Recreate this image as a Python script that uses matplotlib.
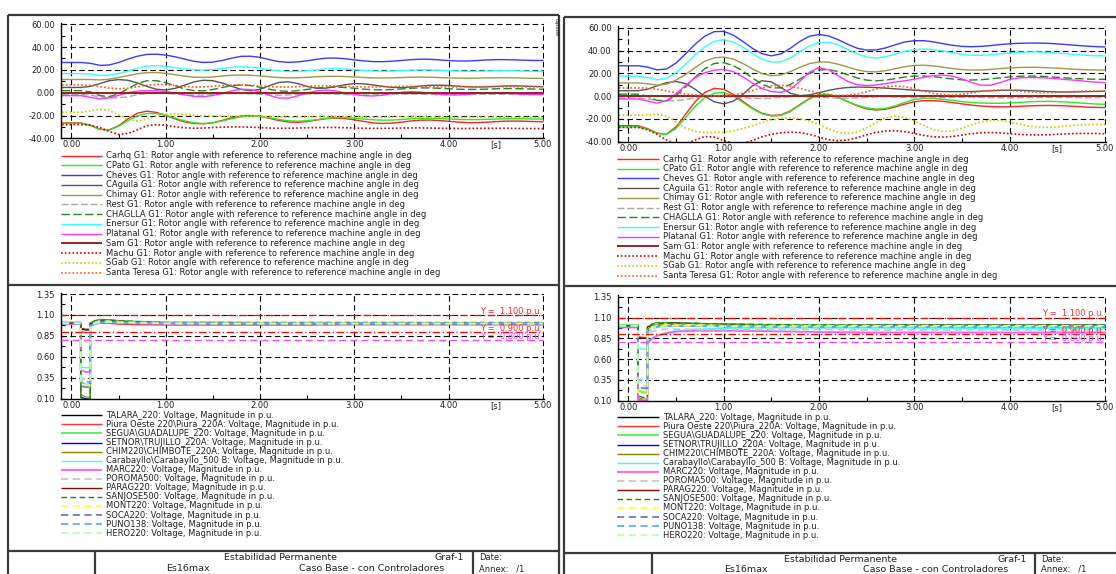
import numpy as np
import matplotlib
matplotlib.use("Agg")
import matplotlib.pyplot as plt

# ---------------------------------------------------------------- data
# rotor angles [deg], sampled every 0.1 s starting at t = -0.1 s
T_START, T_STEP = -0.1, 0.1

carhq_a = [-26.5, -26.5, -26.5, -28.5, -32.0, -32.6, -29.0, -23.0, -18.0, -16.2, -17.3, -20.0, -23.0, -25.6, -27.0, -27.3, -26.3, -24.3, -22.0, -20.4, -20.0, -20.8, -22.5, -24.4, -25.7, -26.0, -25.3, -24.0, -22.8, -22.3, -22.7, -23.8, -25.2, -26.5, -27.0, -26.7, -25.8, -24.8, -24.1, -24.0, -24.4, -25.1, -25.8, -26.2, -26.2, -25.9, -25.4, -25.0, -24.9, -25.0, -25.3, -25.5]
cpato_a = [-26.8, -26.8, -26.8, -28.8, -32.3, -32.8, -29.5, -24.5, -20.3, -18.3, -18.2, -19.8, -22.3, -24.7, -26.4, -27.0, -26.4, -24.8, -22.8, -21.2, -20.5, -20.8, -22.0, -23.5, -24.6, -25.0, -24.6, -23.6, -22.5, -21.8, -21.8, -22.3, -23.1, -23.8, -24.1, -24.0, -23.5, -22.9, -22.5, -22.4, -22.6, -23.0, -23.4, -23.6, -23.6, -23.4, -23.1, -22.9, -22.8, -22.9, -23.0, -23.1]
cheves_a = [26.5, 26.5, 26.5, 25.8, 24.0, 24.3, 26.5, 29.5, 32.0, 33.6, 33.8, 33.0, 31.5, 29.5, 27.5, 26.5, 26.8, 28.3, 30.3, 31.9, 32.0, 31.0, 29.0, 27.3, 26.6, 27.0, 28.0, 29.3, 30.3, 30.4, 29.8, 28.8, 27.9, 27.3, 27.2, 27.6, 28.3, 29.0, 29.4, 29.3, 28.8, 28.2, 27.8, 27.8, 28.2, 28.7, 29.0, 29.0, 28.8, 28.5, 28.3, 28.3]
caguila_a = [4.6, 4.6, 4.6, 5.5, 8.0, 10.5, 11.5, 10.9, 8.6, 5.5, 3.0, 2.4, 3.8, 6.6, 9.5, 10.9, 10.5, 8.5, 5.6, 2.9, 1.7, 3.0, 6.2, 9.0, 9.6, 8.0, 5.5, 3.9, 4.0, 5.3, 7.0, 8.0, 7.8, 6.8, 5.6, 4.7, 4.5, 5.0, 5.8, 6.5, 6.6, 6.3, 5.7, 5.2, 5.0, 5.1, 5.5, 5.9, 6.0, 5.8, 5.5, 5.3]
chimay_a = [11.6, 11.6, 11.6, 11.5, 11.2, 11.8, 13.3, 15.0, 16.6, 17.6, 17.7, 17.0, 15.8, 14.5, 13.6, 13.4, 13.8, 14.6, 15.3, 15.5, 15.3, 14.7, 14.0, 13.3, 13.0, 13.1, 13.5, 14.0, 14.3, 14.4, 14.2, 13.8, 13.3, 13.0, 12.9, 13.0, 13.3, 13.6, 13.7, 13.6, 13.3, 13.0, 12.8, 12.7, 12.8, 13.0, 13.1, 13.1, 13.0, 12.8, 12.6, 12.5]
rest_a = [-1.6, -1.6, -1.6, -2.2, -3.5, -4.5, -4.6, -3.5, -1.8, -0.5, -0.2, -0.5, -1.2, -1.8, -2.2, -2.1, -1.6, -1.0, -0.7, -0.7, -1.0, -1.5, -2.0, -2.2, -2.0, -1.6, -1.2, -1.0, -1.0, -1.2, -1.6, -1.9, -2.0, -1.9, -1.6, -1.3, -1.2, -1.2, -1.4, -1.6, -1.8, -1.8, -1.7, -1.5, -1.4, -1.3, -1.4, -1.5, -1.6, -1.7, -1.7, -1.6]
chaglla_a = [1.8, 1.8, 1.8, 0.8, -2.5, -3.4, -1.0, 3.5, 8.0, 10.5, 10.6, 8.8, 6.0, 3.3, 1.8, 1.6, 2.8, 4.6, 6.2, 6.7, 6.2, 4.8, 3.0, 1.6, 1.2, 1.8, 2.9, 4.0, 4.7, 4.9, 4.6, 3.9, 3.1, 2.6, 2.5, 2.8, 3.3, 3.9, 4.2, 4.2, 3.9, 3.5, 3.1, 2.9, 2.9, 3.1, 3.4, 3.6, 3.6, 3.4, 3.2, 3.1]
enersur_a = [16.8, 16.8, 16.8, 16.3, 15.2, 15.3, 16.8, 19.0, 21.5, 23.3, 23.8, 23.2, 22.0, 20.8, 20.0, 19.8, 20.3, 21.3, 22.3, 22.7, 22.4, 21.5, 20.3, 19.2, 18.6, 18.7, 19.2, 20.0, 20.8, 21.1, 20.8, 20.2, 19.5, 19.0, 18.8, 19.0, 19.4, 19.8, 20.0, 20.0, 19.7, 19.3, 19.0, 18.8, 18.8, 19.0, 19.2, 19.3, 19.2, 19.0, 18.8, 18.7]
platanal_a = [-2.6, -2.6, -2.6, -4.0, -5.5, -4.6, -2.3, 0.0, 1.5, 1.8, 1.7, 1.2, -0.2, -1.9, -3.2, -3.5, -2.5, -0.6, 1.6, 3.0, 2.8, 0.8, -2.4, -4.7, -4.8, -2.8, -0.2, 1.7, 2.3, 1.6, 0.0, -1.5, -2.6, -2.9, -2.2, -0.8, 0.4, 0.9, 0.6, -0.3, -1.3, -1.9, -2.0, -1.5, -0.7, -0.1, 0.0, -0.3, -0.9, -1.4, -1.6, -1.5]
sam_a = [0.0] * 52  # reference machine
machu_a = [-28.0, -28.0, -28.0, -28.5, -30.5, -34.0, -36.6, -35.8, -32.5, -29.0, -28.0, -28.6, -29.8, -30.8, -31.2, -31.0, -30.6, -30.2, -30.0, -30.0, -30.2, -30.6, -31.0, -31.2, -31.2, -31.0, -30.8, -30.6, -30.5, -30.5, -30.7, -31.0, -31.2, -31.3, -31.3, -31.2, -31.0, -30.9, -30.9, -31.0, -31.2, -31.3, -31.4, -31.4, -31.3, -31.2, -31.2, -31.2, -31.3, -31.4, -31.4, -31.5]
sgab_a = [-17.2, -17.2, -17.2, -16.0, -14.6, -15.5, -19.5, -23.5, -24.8, -23.2, -20.5, -18.8, -18.6, -19.0, -19.6, -20.0, -20.3, -20.5, -20.6, -20.6, -20.6, -20.8, -21.0, -21.2, -21.4, -21.4, -21.3, -21.1, -20.9, -20.8, -20.9, -21.1, -21.3, -21.5, -21.5, -21.4, -21.2, -21.1, -21.1, -21.2, -21.4, -21.5, -21.6, -21.6, -21.5, -21.4, -21.4, -21.5, -21.6, -21.7, -21.7, -21.7]
steresa_a = [6.8, 6.8, 6.8, 6.5, 5.3, 4.0, 3.4, 3.9, 5.2, 6.6, 7.3, 7.1, 6.3, 5.5, 5.0, 5.1, 5.6, 6.3, 6.8, 6.9, 6.5, 5.9, 5.3, 5.0, 5.0, 5.3, 5.7, 6.0, 6.1, 5.9, 5.6, 5.3, 5.1, 5.1, 5.2, 5.4, 5.6, 5.6, 5.5, 5.3, 5.2, 5.1, 5.1, 5.2, 5.3, 5.4, 5.4, 5.3, 5.2, 5.1, 5.1, 5.1]

carhq_b = [-26.0, -26.0, -26.0, -28.5, -32.5, -33.5, -27.0, -16.0, -5.0, 3.0, 6.8, 6.0, 1.5, -4.5, -10.5, -15.0, -17.0, -16.5, -13.0, -7.5, -2.0, 1.3, 1.5, -1.0, -4.8, -8.5, -11.2, -12.2, -11.5, -9.5, -7.0, -5.0, -4.0, -4.0, -4.6, -5.6, -6.8, -7.9, -8.7, -9.2, -9.4, -9.3, -9.0, -8.6, -8.3, -8.2, -8.3, -8.6, -9.1, -9.6, -9.9, -10.1]
cpato_b = [-27.0, -27.0, -27.0, -29.0, -32.8, -33.6, -28.5, -19.0, -9.0, -1.5, 2.5, 3.2, 0.0, -5.5, -11.0, -15.5, -17.5, -17.0, -13.5, -8.0, -2.5, 1.0, 1.2, -1.2, -4.8, -8.0, -10.4, -11.4, -10.8, -8.5, -5.5, -3.0, -2.0, -2.1, -2.8, -3.8, -4.8, -5.6, -6.1, -6.3, -6.3, -6.0, -5.5, -5.0, -4.7, -4.6, -4.8, -5.2, -5.8, -6.4, -6.9, -7.2]
cheves_b = [26.6, 26.6, 26.6, 25.5, 23.0, 23.8, 29.0, 37.0, 45.5, 52.5, 56.5, 56.8, 53.5, 48.0, 42.0, 37.2, 35.3, 37.0, 42.0, 48.0, 52.5, 54.0, 52.8, 49.5, 45.5, 42.0, 40.4, 40.5, 42.3, 45.0, 47.5, 48.6, 48.6, 47.6, 46.0, 44.6, 43.6, 43.3, 43.6, 44.3, 45.2, 45.9, 46.3, 46.5, 46.5, 46.3, 45.8, 45.2, 44.5, 43.9, 43.4, 43.1]
caguila_b = [4.7, 4.7, 4.7, 6.0, 9.0, 11.8, 12.8, 11.0, 6.0, 0.0, -5.0, -6.8, -4.5, 1.5, 9.0, 13.5, 12.5, 7.5, 2.5, 0.4, 1.0, 3.0, 5.0, 6.6, 7.5, 7.9, 7.8, 7.5, 7.0, 6.4, 5.8, 5.2, 4.7, 4.3, 4.0, 3.9, 3.9, 4.0, 4.3, 4.7, 5.0, 5.2, 5.1, 4.8, 4.4, 4.0, 3.7, 3.6, 3.7, 3.9, 4.1, 4.3]
chimay_b = [11.6, 11.6, 11.6, 10.8, 9.6, 10.5, 14.0, 19.0, 25.0, 30.5, 33.6, 34.2, 32.5, 28.6, 24.0, 19.8, 17.9, 18.6, 21.5, 25.3, 28.5, 30.0, 29.8, 28.0, 25.5, 23.0, 21.5, 21.3, 22.3, 24.0, 25.8, 26.9, 27.1, 26.5, 25.4, 24.2, 23.2, 22.8, 22.9, 23.4, 24.1, 24.7, 25.1, 25.3, 25.2, 24.9, 24.5, 24.0, 23.5, 23.1, 22.9, 22.8]
rest_b = [-1.8, -1.8, -1.8, -2.5, -3.6, -4.2, -4.0, -3.0, -1.5, -0.3, 0.2, 0.0, -0.6, -1.4, -2.0, -2.2, -1.8, -1.1, -0.5, -0.3, -0.5, -1.0, -1.5, -1.8, -1.8, -1.5, -1.1, -0.8, -0.7, -0.8, -1.1, -1.4, -1.6, -1.6, -1.4, -1.2, -1.0, -1.0, -1.1, -1.3, -1.4, -1.5, -1.4, -1.3, -1.2, -1.1, -1.1, -1.2, -1.3, -1.3, -1.3, -1.2]
chaglla_b = [1.7, 1.7, 1.7, 0.0, -3.8, -4.2, 0.5, 8.0, 16.5, 24.0, 28.6, 29.3, 26.8, 22.0, 16.0, 10.5, 7.2, 7.2, 10.2, 15.0, 20.0, 23.0, 23.3, 21.5, 18.8, 16.0, 14.0, 13.4, 14.0, 15.3, 16.7, 17.5, 17.6, 17.0, 16.0, 15.0, 14.3, 14.1, 14.4, 15.1, 16.0, 16.8, 17.4, 17.6, 17.5, 17.1, 16.5, 15.9, 15.4, 15.0, 14.8, 14.7]
enersur_b = [17.5, 17.5, 17.5, 16.5, 14.3, 15.5, 20.5, 28.0, 36.0, 43.0, 48.0, 49.5, 47.5, 43.0, 37.5, 32.5, 29.8, 30.0, 33.5, 39.0, 44.0, 47.0, 47.2, 45.0, 41.0, 37.0, 34.2, 33.4, 34.5, 36.8, 39.2, 40.8, 41.3, 40.8, 39.5, 38.0, 36.6, 35.8, 35.7, 36.2, 37.0, 37.8, 38.4, 38.7, 38.7, 38.4, 37.8, 37.1, 36.4, 35.8, 35.4, 35.2]
platanal_b = [-2.5, -2.5, -2.5, -4.3, -6.2, -4.0, 2.0, 9.5, 16.0, 20.5, 22.8, 23.4, 21.5, 17.0, 11.5, 6.8, 4.0, 3.3, 6.0, 13.0, 21.0, 25.0, 23.0, 18.0, 13.0, 10.0, 9.2, 9.8, 11.0, 12.3, 13.5, 14.8, 16.4, 17.8, 18.4, 17.5, 15.0, 12.0, 9.6, 9.5, 11.8, 14.6, 16.0, 16.3, 16.2, 15.8, 15.2, 14.5, 13.8, 13.0, 12.3, 11.8]
sam_b = [0.0] * 52  # reference machine
machu_b = [-27.5, -27.5, -27.5, -29.5, -33.5, -38.5, -42.0, -42.0, -38.5, -35.5, -36.0, -39.0, -41.5, -41.5, -39.0, -35.8, -33.5, -32.2, -31.6, -32.0, -33.5, -36.0, -38.3, -39.2, -38.5, -36.5, -34.0, -31.8, -30.6, -30.4, -31.2, -32.8, -34.5, -35.7, -36.0, -35.4, -34.2, -33.0, -32.2, -32.0, -32.3, -33.0, -33.6, -34.0, -34.1, -33.9, -33.5, -33.1, -32.8, -32.7, -32.8, -33.0]
sgab_b = [-16.8, -16.8, -16.8, -16.2, -16.0, -17.5, -22.5, -28.0, -31.0, -32.0, -32.0, -31.6, -30.5, -28.5, -26.0, -23.2, -21.0, -19.6, -19.2, -19.8, -21.8, -25.0, -28.8, -31.8, -32.8, -31.5, -27.8, -23.2, -19.2, -17.6, -18.6, -21.8, -25.8, -29.3, -31.0, -30.5, -28.2, -25.2, -22.6, -21.2, -21.3, -22.6, -24.5, -26.3, -27.3, -27.5, -27.0, -26.2, -25.5, -25.0, -24.9, -24.9]
steresa_b = [7.2, 7.2, 7.2, 7.0, 6.0, 4.5, 3.0, 1.8, 1.0, 0.5, 0.3, 0.5, 1.2, 2.6, 4.8, 7.2, 9.0, 9.5, 8.6, 6.8, 4.6, 2.6, 1.2, 0.6, 0.8, 1.8, 3.8, 6.2, 8.2, 9.0, 8.3, 6.5, 4.3, 2.4, 1.2, 1.0, 1.6, 2.8, 4.1, 5.0, 5.3, 5.0, 4.3, 3.6, 3.2, 3.1, 3.3, 3.7, 4.1, 4.3, 4.4, 4.4]

# bus voltages [p.u.]; fault applied at 0.1 s and cleared at 0.2 s
v_time = [-0.1, 0.1, 0.1, 0.15, 0.2, 0.2, 0.25, 0.3, 0.4, 0.5, 0.7, 1.0, 1.5, 2.0, 2.5, 3.0, 3.5, 4.0, 4.5, 5.0]

talara_a = [1.00, 1.00, 0.93, 0.92, 0.92, 1.00, 1.02, 1.03, 1.03, 1.02, 1.01, 1.005, 1.0, 1.0, 1.0, 1.0, 1.0, 1.0, 1.0, 1.0]
piura_a = [0.99, 0.99, 0.90, 0.89, 0.89, 0.97, 0.99, 1.0, 1.0, 0.99, 0.985, 0.98, 0.98, 0.98, 0.98, 0.985, 0.985, 0.985, 0.985, 0.985]
segua_a = [1.01, 1.01, 0.30, 0.27, 0.27, 1.00, 1.03, 1.04, 1.04, 1.03, 1.02, 1.01, 1.01, 1.005, 1.005, 1.005, 1.005, 1.0, 1.0, 1.0]
setnor_a = [1.0, 1.0, 0.12, 0.10, 0.10, 0.98, 1.02, 1.04, 1.035, 1.025, 1.015, 1.005, 1.0, 1.0, 1.0, 1.0, 1.0, 1.0, 1.0, 1.0]
chim_a = [1.01, 1.01, 0.15, 0.12, 0.12, 0.99, 1.03, 1.045, 1.04, 1.03, 1.02, 1.01, 1.005, 1.005, 1.0, 1.0, 1.0, 1.0, 1.0, 1.0]
carab_a = [0.99, 0.99, 0.48, 0.47, 0.47, 0.96, 0.99, 1.01, 1.015, 1.01, 1.005, 1.0, 0.995, 0.99, 0.99, 0.99, 0.99, 0.99, 0.99, 0.99]
marc_a = [0.99, 0.99, 0.44, 0.42, 0.42, 0.97, 1.0, 1.01, 1.01, 1.005, 1.0, 0.995, 0.99, 0.99, 0.99, 0.985, 0.985, 0.985, 0.985, 0.985]
poroma_a = [1.0, 1.0, 0.35, 0.33, 0.33, 0.98, 1.02, 1.03, 1.03, 1.02, 1.01, 1.005, 1.0, 1.0, 1.0, 1.0, 1.0, 1.0, 1.0, 1.0]
parag_a = [1.0, 1.0, 0.94, 0.93, 0.93, 1.0, 1.01, 1.02, 1.02, 1.015, 1.01, 1.0, 0.995, 0.995, 0.995, 0.995, 0.995, 0.995, 0.995, 0.995]
sanjose_a = [1.0, 1.0, 0.11, 0.10, 0.10, 1.0, 1.03, 1.04, 1.04, 1.03, 1.02, 1.01, 1.01, 1.01, 1.01, 1.01, 1.01, 1.01, 1.01, 1.01]
mont_a = [1.0, 1.0, 0.28, 0.26, 0.26, 0.98, 1.01, 1.02, 1.02, 1.015, 1.01, 1.0, 1.0, 1.0, 1.0, 1.0, 1.0, 1.0, 1.0, 1.0]
soca_a = [0.995, 0.995, 0.25, 0.24, 0.24, 0.97, 1.0, 1.01, 1.015, 1.01, 1.005, 1.0, 0.995, 0.995, 0.995, 0.995, 0.995, 0.995, 0.995, 0.995]
puno_a = [1.0, 1.0, 0.32, 0.30, 0.30, 0.97, 1.0, 1.01, 1.015, 1.01, 1.005, 1.0, 1.0, 1.0, 1.0, 1.0, 1.0, 1.0, 1.0, 1.0]
hero_a = [1.0, 1.0, 0.27, 0.26, 0.26, 0.97, 1.0, 1.01, 1.015, 1.01, 1.005, 1.0, 0.995, 0.995, 0.995, 0.995, 0.995, 0.995, 0.995, 0.995]

talara_b = [1.0, 1.0, 0.86, 0.85, 0.85, 0.98, 1.02, 1.04, 1.04, 1.035, 1.03, 1.02, 1.015, 1.01, 1.01, 1.01, 1.01, 1.01, 1.01, 1.01]
piura_b = [0.99, 0.99, 0.87, 0.86, 0.86, 0.96, 0.99, 1.0, 1.0, 1.0, 1.0, 0.99, 0.985, 0.98, 0.98, 0.98, 0.98, 0.98, 0.98, 0.98]
segua_b = [1.01, 1.01, 0.22, 0.20, 0.20, 0.98, 1.02, 1.03, 1.03, 1.02, 1.02, 1.01, 1.01, 1.01, 1.0, 1.0, 1.0, 1.0, 1.0, 1.0]
setnor_b = [1.0, 1.0, 0.12, 0.10, 0.10, 0.95, 0.99, 1.0, 1.0, 1.0, 1.0, 1.0, 0.995, 0.99, 0.99, 0.99, 0.99, 0.99, 0.99, 0.99]
chim_b = [1.0, 1.0, 0.14, 0.12, 0.12, 0.95, 1.0, 1.01, 1.015, 1.02, 1.03, 1.02, 1.01, 1.005, 1.0, 1.0, 1.0, 1.0, 1.0, 1.0]
carab_b = [0.99, 0.99, 0.73, 0.72, 0.72, 0.78, 0.84, 0.88, 0.92, 0.94, 0.96, 0.97, 0.975, 0.975, 0.975, 0.975, 0.97, 0.97, 0.97, 0.97]
marc_b = [0.98, 0.98, 0.11, 0.10, 0.10, 0.80, 0.85, 0.88, 0.91, 0.93, 0.94, 0.94, 0.935, 0.925, 0.92, 0.92, 0.92, 0.92, 0.92, 0.92]
poroma_b = [0.99, 0.99, 0.30, 0.28, 0.28, 0.90, 0.93, 0.95, 0.96, 0.96, 0.955, 0.955, 0.955, 0.955, 0.95, 0.95, 0.95, 0.95, 0.95, 0.95]
parag_b = [1.0, 1.0, 0.86, 0.85, 0.85, 0.99, 1.0, 1.0, 1.0, 1.0, 1.0, 1.0, 0.995, 0.99, 0.99, 0.99, 0.99, 0.99, 0.99, 0.99]
sanjose_b = [1.0, 1.0, 0.16, 0.14, 0.14, 0.98, 1.02, 1.03, 1.03, 1.03, 1.03, 1.02, 1.015, 1.01, 1.01, 1.01, 1.01, 1.01, 1.01, 1.01]
mont_b = [1.0, 1.0, 0.20, 0.18, 0.18, 0.95, 0.99, 1.0, 1.01, 1.01, 1.01, 1.0, 1.0, 1.0, 1.0, 1.0, 1.0, 1.0, 1.0, 1.0]
soca_b = [0.99, 0.99, 0.27, 0.25, 0.25, 0.93, 0.97, 0.99, 1.0, 1.0, 1.0, 0.995, 0.99, 0.99, 0.985, 0.985, 0.985, 0.985, 0.985, 0.985]
puno_b = [1.0, 1.0, 0.35, 0.34, 0.34, 0.93, 0.97, 0.99, 1.0, 1.0, 1.0, 0.995, 0.99, 0.99, 0.985, 0.985, 0.985, 0.985, 0.985, 0.985]
hero_b = [1.0, 1.0, 0.25, 0.23, 0.23, 0.94, 0.98, 0.99, 1.0, 1.0, 1.0, 0.995, 0.99, 0.99, 0.99, 0.99, 0.99, 0.99, 0.99, 0.99]

# limit lines of the voltage plots
v_limits = [1.10, 0.90, 0.80]
v_limit_labels = ["Y =  1.100 p.u.", "Y =  0.900 p.u.", "Y =  0.800 p.u."]

rotor_names = ["Carhq", "CPato", "Cheves", "CAguila", "Chimay", "Rest", "CHAGLLA",
               "Enersur", "Platanal", "Sam", "Machu", "SGab", "Santa Teresa"]
bus_names = ["TALARA_220", "Piura Oeste 220\\Piura_220A", "SEGUA\\GUADALUPE_220",
             "SETNOR\\TRUJILLO_220A", "CHIM220\\CHIMBOTE_220A", "Carabayllo\\Carabayllo_500 B",
             "MARC220", "POROMA500", "PARAG220", "SANJOSE500", "MONT220", "SOCA220",
             "PUNO138", "HERO220"]

x_ticks = [0, 1, 2, 3, 4, 4.5, 5]
x_ticklabels = ["0.00", "1.00", "2.00", "3.00", "4.00", "[s]", "5.00"]
rotor_yticks = [-40, -20, 0, 20, 40, 60]
volt_yticks = [0.10, 0.35, 0.60, 0.85, 1.10, 1.35]

# ---------------------------------------------------------------- styles
DOT = (0, (1, 1.3))
rotor_styles = [
    dict(color="#ff2020", ls="-", lw=1.0),
    dict(color="#22ee22", ls="-", lw=1.0),
    dict(color="#3a3aff", ls="-", lw=1.0),
    dict(color="#555555", ls="-", lw=1.0),
    dict(color="#9a9a48", ls="-", lw=1.0),
    dict(color="#a8a8a8", ls=(0, (5, 2)), lw=1.0),
    dict(color="#228822", ls=(0, (6, 2.5)), lw=1.0),
    dict(color="#33ffff", ls="-", lw=1.0),
    dict(color="#ff33ff", ls="-", lw=1.0),
    dict(color="#992222", ls="-", lw=1.4),
    dict(color="#cc0000", ls=DOT, lw=1.2),
    dict(color="#cccc00", ls=DOT, lw=1.2),
    dict(color="#ff5522", ls=DOT, lw=1.2),
]
DSH = (0, (4, 2.5))
bus_styles = [
    dict(color="#000000", ls="-", lw=0.8),
    dict(color="#ff3333", ls="-", lw=1.0),
    dict(color="#66ee66", ls="-", lw=1.5),
    dict(color="#0000ee", ls="-", lw=0.8),
    dict(color="#888800", ls="-", lw=0.8),
    dict(color="#33ffff", ls="-", lw=1.0),
    dict(color="#ff55ff", ls="-", lw=1.3),
    dict(color="#c8c8c8", ls=DSH, lw=1.3),
    dict(color="#880000", ls="-", lw=0.8),
    dict(color="#118811", ls=DSH, lw=1.0),
    dict(color="#ffff44", ls=DSH, lw=1.3),
    dict(color="#7777bb", ls=DSH, lw=1.3),
    dict(color="#66aaff", ls=DSH, lw=1.3),
    dict(color="#bbffbb", ls=DSH, lw=1.3),
]
limit_styles = [
    dict(color="#ff0000", ls=(0, (6, 2, 1, 2)), lw=0.9),
    dict(color="#ff0000", ls=(0, (6, 2, 1, 2)), lw=0.9),
    dict(color="#ff44ff", ls=(0, (5, 3)), lw=1.0),
]
limit_text_colors = ["#ff2a2a", "#ff2a2a", "#ff44ff"]

FONT = 6.0
FOOT_FONT = 6.8
TXT = "#222222"
FRAME = "#3a3a3a"
GRID = dict(color="black", lw=0.8, ls=(0, (5, 3)))

# ---------------------------------------------------------------- figure
W, H = 1116, 574
plt.rcParams["font.family"] = ["DejaVu Sans"]
fig = plt.figure(figsize=(W / 100, H / 100), dpi=100)
fig.patch.set_facecolor("white")

ov = fig.add_axes([0, 0, 1, 1])
ov.set_xlim(0, W)
ov.set_ylim(H, 0)
ov.axis("off")


def px_axes(x0, y0, x1, y1):
    return fig.add_axes([x0 / W, 1 - y1 / H, (x1 - x0) / W, (y1 - y0) / H])


def plot_axes(P, ytop, ybot, ylo, yhi, yticks, yminor):
    x1 = P["t0"] + 5 * P["pps"] + 1.5
    ax = px_axes(P["spine"], ytop - 1.5, x1, ybot)
    ax.set_xlim((P["spine"] - P["t0"]) / P["pps"], 5 + 1.5 / P["pps"])
    ppu = (ybot - ytop) / (yhi - ylo)
    ax.set_ylim(ylo, yhi + 1.5 / ppu)
    ax.set_facecolor("white")
    for s in ("top", "right"):
        ax.spines[s].set_visible(False)
    for s in ("left", "bottom"):
        ax.spines[s].set_linewidth(1.0)
        ax.spines[s].set_color("black")
    for y in yticks[1:]:
        ax.axhline(y, zorder=1, **GRID)
    for t in range(6):
        ax.axvline(t, zorder=1, **GRID)
    ax.set_xticks(x_ticks)
    ax.set_xticklabels(x_ticklabels)
    ax.set_xticks([0.5, 1.5, 2.5, 3.5], minor=True)
    ax.set_yticks(yticks)
    ax.set_yticklabels(["%.2f" % v for v in yticks])
    ax.set_yticks(yminor, minor=True)
    ax.tick_params(which="both", direction="in", length=3, width=0.8,
                   labelsize=FONT, colors="black", labelcolor=TXT)
    ax.tick_params(axis="x", which="major", length=0, pad=1.5)
    ax.tick_params(axis="y", pad=4.5)
    return ax


def legend_rows(P, y_first, step, names, styles, suffix):
    lx0, lx1, tx = P["leg_x"]
    for i, (nm, st) in enumerate(zip(names, styles)):
        y = y_first + i * step
        ov.plot([lx0, lx1], [y, y], color=st["color"], ls=st["ls"],
                lw=max(st["lw"], 1.0), solid_capstyle="butt")
        ov.text(tx, y, nm + suffix, fontsize=FONT, va="center", ha="left", color=TXT)


def draw_panel(P, rotor, volt):
    fl = dict(color=FRAME, lw=1.6, solid_capstyle="butt")
    x0, x1 = P["fx0"], P["fx1"]
    ov.plot([x0, x0], [P["fy0"], H], **fl)
    ov.plot([x1, x1], [P["fy0"], H], **fl)
    ov.plot([x0, x1], [P["fy0"], P["fy0"]], **fl)
    ov.plot([x0, x1], [P["sep"], P["sep"]], **fl)
    ov.plot([x0, x1], [P["foot"], P["foot"]], **fl)
    for xd in P["divs"]:
        ov.plot([xd, xd], [P["foot"], H], **fl)

    # rotor angle plot
    ax = plot_axes(P, P["top"][0], P["top"][1], -40, 60, rotor_yticks,
                   list(range(-30, 60, 20)))
    for vals, st in zip(rotor, rotor_styles):
        t = T_START + T_STEP * np.arange(len(vals))
        ax.plot(t, vals, zorder=2, **st)
    legend_rows(P, P["leg1"][0], P["leg1"][1], rotor_names, rotor_styles,
                " G1: Rotor angle with reference to reference machine angle in deg")

    # voltage plot
    ax = plot_axes(P, P["bot"][0], P["bot"][1], 0.10, 1.35, volt_yticks,
                   [0.225, 0.475, 0.725, 0.975, 1.225])
    for vals, st in zip(volt, bus_styles):
        ax.plot(v_time, vals, zorder=2, **st)
    for lv, lab, st, tc in zip(v_limits, v_limit_labels, limit_styles, limit_text_colors):
        ax.axhline(lv, zorder=3, **st)
        ax.text(4.99, lv + 0.014, lab, color=tc, fontsize=FONT, ha="right",
                va="baseline", zorder=4)
    legend_rows(P, P["leg2"][0], P["leg2"][1], bus_names, bus_styles,
                ": Voltage, Magnitude in p.u.")

    # title block
    r1, r2 = P["rows"]
    fx = P["foot_x"]
    ov.text(fx[0], r1, "Estabilidad Permanente", fontsize=FOOT_FONT, ha="center", va="center", color=TXT)
    ov.text(fx[1], r1, "Graf-1", fontsize=FOOT_FONT, ha="right", va="center", color=TXT)
    ov.text(fx[2], r1, "Date:", fontsize=FONT, ha="left", va="center", color=TXT)
    ov.text(fx[3], r2, "Es16max", fontsize=FOOT_FONT, ha="center", va="center", color=TXT)
    ov.text(fx[4], r2, "Caso Base - con Controladores", fontsize=FOOT_FONT, ha="center", va="center", color=TXT)
    ov.text(fx[2], r2, "Annex:   /1", fontsize=FONT, ha="left", va="center", color=TXT)


LEFT = dict(fx0=8, fx1=559, fy0=15, sep=285, foot=550.7, divs=[94.6, 473],
            spine=61.2, t0=71.4, pps=94.3, top=(24.3, 138.3), bot=(294, 398.7),
            leg1=(155.7, 9.75), leg2=(415.3, 9.07), leg_x=(61.4, 101.8, 106.4),
            rows=(557.5, 568.5), foot_x=[280, 464, 479, 187.5, 371.5])
RIGHT = dict(fx0=564, fx1=1130, fy0=16.7, sep=286, foot=553, divs=[651.7, 1034.6],
             spine=618, t0=628.4, pps=95.3, top=(27.7, 141.7), bot=(296.7, 400.7),
             leg1=(159, 9.72), leg2=(417.3, 9.07), leg_x=(617.4, 658.9, 663),
             rows=(559, 569.5), foot_x=[840, 1027, 1041, 746, 936])

draw_panel(LEFT,
           [carhq_a, cpato_a, cheves_a, caguila_a, chimay_a, rest_a, chaglla_a,
            enersur_a, platanal_a, sam_a, machu_a, sgab_a, steresa_a],
           [talara_a, piura_a, segua_a, setnor_a, chim_a, carab_a, marc_a,
            poroma_a, parag_a, sanjose_a, mont_a, soca_a, puno_a, hero_a])
draw_panel(RIGHT,
           [carhq_b, cpato_b, cheves_b, caguila_b, chimay_b, rest_b, chaglla_b,
            enersur_b, platanal_b, sam_b, machu_b, sgab_b, steresa_b],
           [talara_b, piura_b, segua_b, setnor_b, chim_b, carab_b, marc_b,
            poroma_b, parag_b, sanjose_b, mont_b, soca_b, puno_b, hero_b])

# program logo in the corner of the first sheet
ov.text(555.5, 27, "DIgSILENT", fontsize=2.6, rotation=270, ha="center",
        va="center", color="black")

fig.savefig("out.png", dpi=100, facecolor="white")
